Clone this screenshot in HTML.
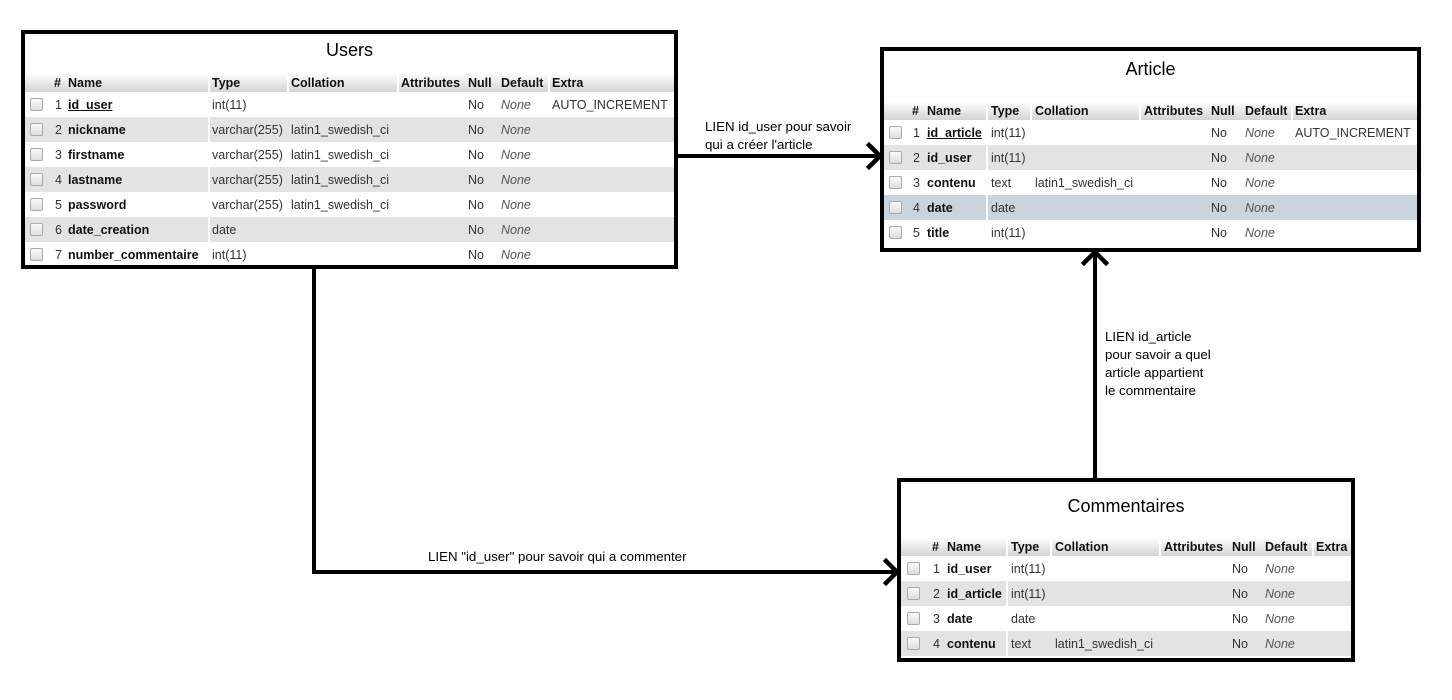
<!DOCTYPE html>
<html><head><meta charset="utf-8">
<style>
body{margin:0;width:1452px;height:700px;background:#fff;position:relative;overflow:hidden;font-family:"Liberation Sans",Arial,sans-serif;}
.box{position:absolute;border:4px solid #000;background:#fff;box-sizing:border-box;}
.t{position:absolute;font-size:18px;color:#000;text-align:center;}
.hd{position:absolute;height:19px;background:linear-gradient(#fff,#d4d4d4);}
.r{position:absolute;height:25px;}
.g{background:#e3e3e3;}
.b{background:#c9d4df;}
.c{position:absolute;font-size:12.5px;line-height:27px;white-space:nowrap;color:#333;}
.h{position:absolute;font-size:12.5px;line-height:21px;font-weight:bold;color:#111;white-space:nowrap;}
.n{font-weight:bold;color:#111;}
.u{text-decoration:underline;}
.i{font-style:italic;color:#555;}
.cb{position:absolute;width:11px;height:11px;border:1px solid #aaa;border-radius:2px;background:linear-gradient(#fafafa,#ddd);top:6px;}
.sep{position:absolute;width:2px;background:#fff;}
.lb{position:absolute;font-size:13.3px;line-height:18px;color:#000;white-space:nowrap;}
</style></head><body>

<!-- Users -->
<div class="box" style="left:21px;top:30px;width:657px;height:239px;"></div>
<div class="t" style="left:21px;width:657px;top:40px;">Users</div>
<div class="hd" style="left:25px;top:73px;width:649px;"></div>
<div class="h" style="left:54px;top:73px">#</div><div class="h" style="left:68px;top:73px">Name</div><div class="h" style="left:212px;top:73px">Type</div><div class="h" style="left:291px;top:73px">Collation</div><div class="h" style="left:401px;top:73px">Attributes</div><div class="h" style="left:468px;top:73px">Null</div><div class="h" style="left:501px;top:73px">Default</div><div class="h" style="left:552px;top:73px">Extra</div>
<div class="r" style="left:25px;top:92px;width:649px"><div class="cb" style="left:5px"></div></div>
<div class="r g" style="left:25px;top:117px;width:649px"><div class="cb" style="left:5px"></div></div>
<div class="r" style="left:25px;top:142px;width:649px"><div class="cb" style="left:5px"></div></div>
<div class="r g" style="left:25px;top:167px;width:649px"><div class="cb" style="left:5px"></div></div>
<div class="r" style="left:25px;top:192px;width:649px"><div class="cb" style="left:5px"></div></div>
<div class="r g" style="left:25px;top:217px;width:649px"><div class="cb" style="left:5px"></div></div>
<div class="r" style="left:25px;top:242px;width:649px"><div class="cb" style="left:5px"></div></div>
<div class="sep" style="left:208px;top:73px;height:192px"></div><div class="sep" style="left:287px;top:73px;height:19px"></div><div class="sep" style="left:397px;top:73px;height:19px"></div><div class="sep" style="left:548px;top:73px;height:19px"></div>
<div class="c" style="left:55px;top:92px">1</div><div class="c n u" style="left:68px;top:92px">id_user</div><div class="c" style="left:212px;top:92px">int(11)</div><div class="c" style="left:468px;top:92px">No</div><div class="c i" style="left:501px;top:92px">None</div><div class="c" style="left:552px;top:92px">AUTO_INCREMENT</div>
<div class="c" style="left:55px;top:117px">2</div><div class="c n" style="left:68px;top:117px">nickname</div><div class="c" style="left:212px;top:117px">varchar(255)</div><div class="c" style="left:291px;top:117px">latin1_swedish_ci</div><div class="c" style="left:468px;top:117px">No</div><div class="c i" style="left:501px;top:117px">None</div>
<div class="c" style="left:55px;top:142px">3</div><div class="c n" style="left:68px;top:142px">firstname</div><div class="c" style="left:212px;top:142px">varchar(255)</div><div class="c" style="left:291px;top:142px">latin1_swedish_ci</div><div class="c" style="left:468px;top:142px">No</div><div class="c i" style="left:501px;top:142px">None</div>
<div class="c" style="left:55px;top:167px">4</div><div class="c n" style="left:68px;top:167px">lastname</div><div class="c" style="left:212px;top:167px">varchar(255)</div><div class="c" style="left:291px;top:167px">latin1_swedish_ci</div><div class="c" style="left:468px;top:167px">No</div><div class="c i" style="left:501px;top:167px">None</div>
<div class="c" style="left:55px;top:192px">5</div><div class="c n" style="left:68px;top:192px">password</div><div class="c" style="left:212px;top:192px">varchar(255)</div><div class="c" style="left:291px;top:192px">latin1_swedish_ci</div><div class="c" style="left:468px;top:192px">No</div><div class="c i" style="left:501px;top:192px">None</div>
<div class="c" style="left:55px;top:217px">6</div><div class="c n" style="left:68px;top:217px">date_creation</div><div class="c" style="left:212px;top:217px">date</div><div class="c" style="left:468px;top:217px">No</div><div class="c i" style="left:501px;top:217px">None</div>
<div class="c" style="left:55px;top:242px">7</div><div class="c n" style="left:68px;top:242px">number_commentaire</div><div class="c" style="left:212px;top:242px">int(11)</div><div class="c" style="left:468px;top:242px">No</div><div class="c i" style="left:501px;top:242px">None</div>

<!-- Article -->
<div class="box" style="left:880px;top:47px;width:541px;height:205px;"></div>
<div class="t" style="left:880px;width:541px;top:59px;">Article</div>
<div class="hd" style="left:884px;top:101px;width:533px;"></div>
<div class="h" style="left:912px;top:101px">#</div><div class="h" style="left:927px;top:101px">Name</div><div class="h" style="left:991px;top:101px">Type</div><div class="h" style="left:1035px;top:101px">Collation</div><div class="h" style="left:1144px;top:101px">Attributes</div><div class="h" style="left:1211px;top:101px">Null</div><div class="h" style="left:1245px;top:101px">Default</div><div class="h" style="left:1295px;top:101px">Extra</div>
<div class="r" style="left:884px;top:120px;width:533px"><div class="cb" style="left:5px"></div></div>
<div class="r g" style="left:884px;top:145px;width:533px"><div class="cb" style="left:5px"></div></div>
<div class="r" style="left:884px;top:170px;width:533px"><div class="cb" style="left:5px"></div></div>
<div class="r b" style="left:884px;top:195px;width:533px"><div class="cb" style="left:5px"></div></div>
<div class="r" style="left:884px;top:220px;width:533px"><div class="cb" style="left:5px"></div></div>
<div class="sep" style="left:986px;top:101px;height:145px"></div><div class="sep" style="left:1030px;top:101px;height:19px"></div><div class="sep" style="left:1139px;top:101px;height:19px"></div><div class="sep" style="left:1291px;top:101px;height:19px"></div>
<div class="c" style="left:913px;top:120px">1</div><div class="c n u" style="left:927px;top:120px">id_article</div><div class="c" style="left:991px;top:120px">int(11)</div><div class="c" style="left:1211px;top:120px">No</div><div class="c i" style="left:1245px;top:120px">None</div><div class="c" style="left:1295px;top:120px">AUTO_INCREMENT</div>
<div class="c" style="left:913px;top:145px">2</div><div class="c n" style="left:927px;top:145px">id_user</div><div class="c" style="left:991px;top:145px">int(11)</div><div class="c" style="left:1211px;top:145px">No</div><div class="c i" style="left:1245px;top:145px">None</div>
<div class="c" style="left:913px;top:170px">3</div><div class="c n" style="left:927px;top:170px">contenu</div><div class="c" style="left:991px;top:170px">text</div><div class="c" style="left:1035px;top:170px">latin1_swedish_ci</div><div class="c" style="left:1211px;top:170px">No</div><div class="c i" style="left:1245px;top:170px">None</div>
<div class="c" style="left:913px;top:195px">4</div><div class="c n" style="left:927px;top:195px">date</div><div class="c" style="left:991px;top:195px">date</div><div class="c" style="left:1211px;top:195px">No</div><div class="c i" style="left:1245px;top:195px">None</div>
<div class="c" style="left:913px;top:220px">5</div><div class="c n" style="left:927px;top:220px">title</div><div class="c" style="left:991px;top:220px">int(11)</div><div class="c" style="left:1211px;top:220px">No</div><div class="c i" style="left:1245px;top:220px">None</div>

<!-- Commentaires -->
<div class="box" style="left:897px;top:478px;width:458px;height:184px;"></div>
<div class="t" style="left:897px;width:458px;top:496px;">Commentaires</div>
<div class="hd" style="left:901px;top:537px;width:450px;"></div>
<div class="h" style="left:932px;top:537px">#</div><div class="h" style="left:947px;top:537px">Name</div><div class="h" style="left:1011px;top:537px">Type</div><div class="h" style="left:1055px;top:537px">Collation</div><div class="h" style="left:1164px;top:537px">Attributes</div><div class="h" style="left:1232px;top:537px">Null</div><div class="h" style="left:1265px;top:537px">Default</div><div class="h" style="left:1316px;top:537px">Extra</div>
<div class="r" style="left:901px;top:556px;width:450px"><div class="cb" style="left:6px"></div></div>
<div class="r g" style="left:901px;top:581px;width:450px"><div class="cb" style="left:6px"></div></div>
<div class="r" style="left:901px;top:606px;width:450px"><div class="cb" style="left:6px"></div></div>
<div class="r g" style="left:901px;top:631px;width:450px"><div class="cb" style="left:6px"></div></div>
<div class="sep" style="left:1006px;top:537px;height:121px"></div><div class="sep" style="left:1050px;top:537px;height:19px"></div><div class="sep" style="left:1159px;top:537px;height:19px"></div><div class="sep" style="left:1312px;top:537px;height:19px"></div>
<div class="c" style="left:933px;top:556px">1</div><div class="c n" style="left:947px;top:556px">id_user</div><div class="c" style="left:1011px;top:556px">int(11)</div><div class="c" style="left:1232px;top:556px">No</div><div class="c i" style="left:1265px;top:556px">None</div>
<div class="c" style="left:933px;top:581px">2</div><div class="c n" style="left:947px;top:581px">id_article</div><div class="c" style="left:1011px;top:581px">int(11)</div><div class="c" style="left:1232px;top:581px">No</div><div class="c i" style="left:1265px;top:581px">None</div>
<div class="c" style="left:933px;top:606px">3</div><div class="c n" style="left:947px;top:606px">date</div><div class="c" style="left:1011px;top:606px">date</div><div class="c" style="left:1232px;top:606px">No</div><div class="c i" style="left:1265px;top:606px">None</div>
<div class="c" style="left:933px;top:631px">4</div><div class="c n" style="left:947px;top:631px">contenu</div><div class="c" style="left:1011px;top:631px">text</div><div class="c" style="left:1055px;top:631px">latin1_swedish_ci</div><div class="c" style="left:1232px;top:631px">No</div><div class="c i" style="left:1265px;top:631px">None</div>

<!-- connectors -->
<svg style="position:absolute;left:0;top:0" width="1452" height="700">
<g stroke="#000" stroke-width="4" fill="none" stroke-linecap="square">
<path d="M678 156 H877"/>
<path d="M869 145 L880 156 L869 167" stroke-width="4.5"/>
<path d="M314 269 V572 H894"/>
<path d="M886 561 L897 572 L886 583" stroke-width="4.5"/>
<path d="M1095 478 V254"/>
<path d="M1084 263 L1095 252 L1106 263" stroke-width="4.5"/>
</g>
</svg>
<div class="lb" style="left:705px;top:118px">LIEN id_user pour savoir<br>qui a créer l'article</div>
<div class="lb" style="left:428px;top:548px">LIEN "id_user" pour savoir qui a commenter</div>
<div class="lb" style="left:1105px;top:328px">LIEN id_article<br>pour savoir a quel<br>article appartient<br>le commentaire</div>
</body></html>
